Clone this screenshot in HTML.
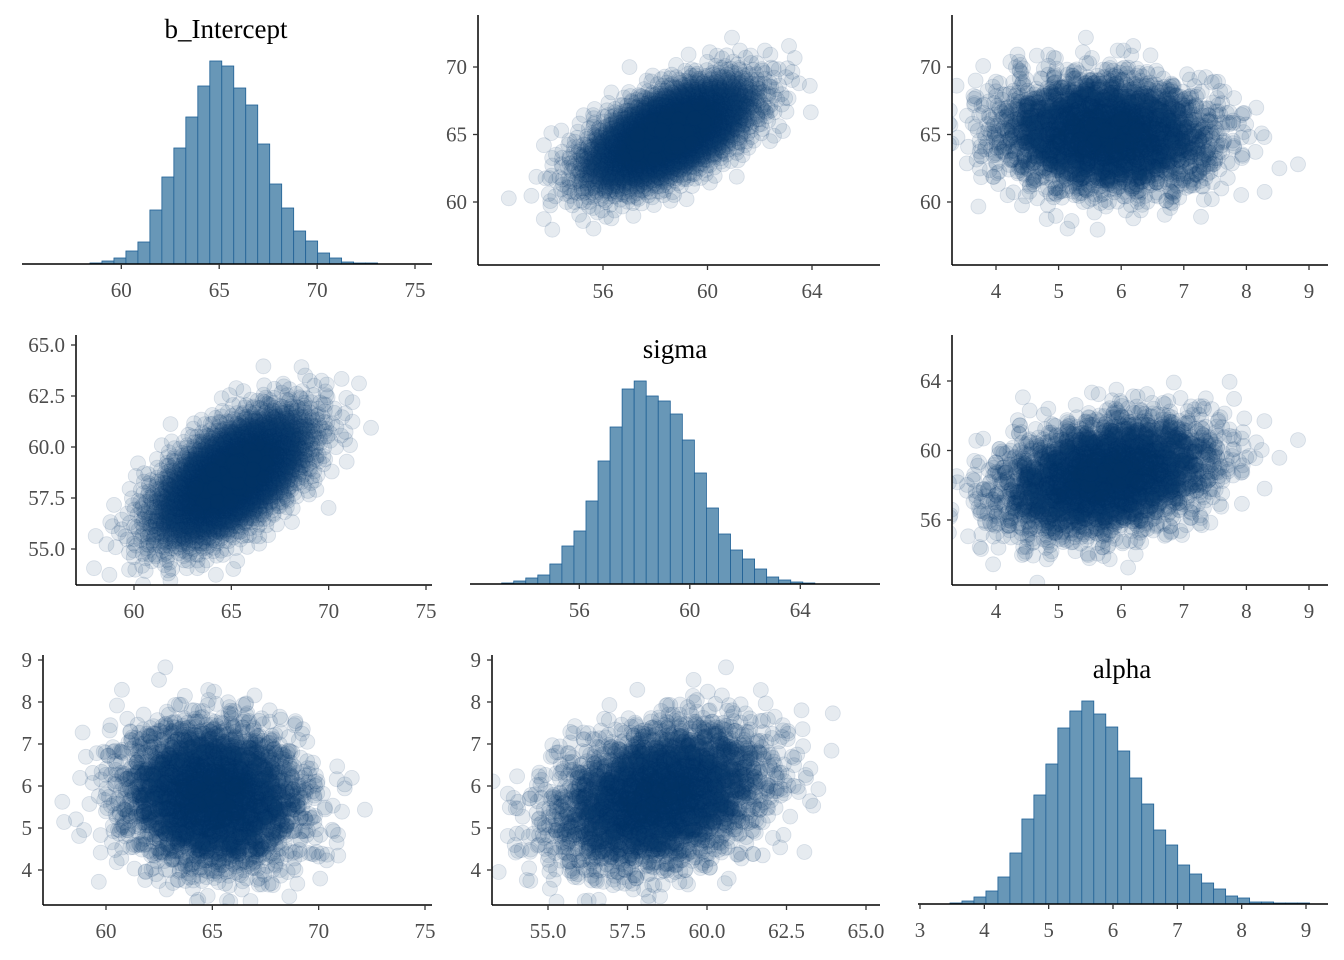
<!DOCTYPE html>
<html><head><meta charset="utf-8">
<style>
html,body{margin:0;padding:0;background:#fff;}
svg{display:block;font-family:"Liberation Serif",serif;}
</style></head>
<body>
<svg id="chart" width="1344" height="960" viewBox="0 0 1344 960"></svg>
<script>
// ---- data ----
const paramNames = ["b_Intercept", "sigma", "alpha"];
const paramMeans = [65.0, 58.5, 5.75];
const paramSds = [2.0, 1.6, 0.82];
const corrBSigma = 0.6;
const corrBAlpha = -0.08;
const corrSigmaAlpha = 0.3;
const nDraws = 4000;
// histogram bins (start, width, counts)
const histBStart = 58.40, histBWidth = 0.612;
const histBCounts = [1,3,6,13,22,54,87,116,147,178,203,198,176,159,120,80,56,33,23,11,6,2,1,1];
const histSStart = 53.19, histSWidth = 0.436;
const histSCounts = [1,3,6,9,20,38,53,83,123,157,195,203,188,183,170,144,111,76,50,34,25,15,7,4,2,1];
const histAStart = 3.466, histAWidth = 0.1863;
const histACounts = [1,3,7,13,27,51,85,109,140,176,193,203,190,177,153,126,100,74,59,39,30,21,15,8,6,2,2,1,1,1];
const ticksB1 = [60,65,70,75], ticksB3 = [60,65,70,75];
const ticksS1 = [56,60,64], ticksSy2 = ["55.0","57.5","60.0","62.5","65.0"], ticksS3 = ["55.0","57.5","60.0","62.5","65.0"];
const ticksA = [4,5,6,7,8,9], ticksAhist = [3,4,5,6,7,8,9];
const ticksBy = [60,65,70], ticksSy3 = [56,60,64], ticksAy = [4,5,6,7,8,9];

const NS="http://www.w3.org/2000/svg";
const svg=document.getElementById('chart');
function el(tag,attrs,parent){const e=document.createElementNS(NS,tag);for(const k in attrs)e.setAttribute(k,attrs[k]);(parent||svg).appendChild(e);return e;}
function lin(d0,d1,r0,r1){return v=>r0+(v-d0)*(r1-r0)/(d1-d0);}

// deterministic quasi-normal draws (Halton + Box-Muller)
function halton(i,b){let f=1,r=0;while(i>0){f/=b;r+=f*(i%b);i=Math.floor(i/b);}return r;}
const z1=[],z2=[],z3=[];
for(let i=1;i<=nDraws;i++){
  const u1=halton(i,2)*0.9995+0.0002,u2=halton(i,3),u3=halton(i,5)*0.9995+0.0002,u4=halton(i,7);
  const r1=Math.sqrt(-2*Math.log(u1)),r2=Math.sqrt(-2*Math.log(u3));
  z1.push(r1*Math.cos(2*Math.PI*u2));z2.push(r1*Math.sin(2*Math.PI*u2));z3.push(r2*Math.cos(2*Math.PI*u4));
}
const R=[[1,corrBSigma,corrBAlpha],[corrBSigma,1,corrSigmaAlpha],[corrBAlpha,corrSigmaAlpha,1]];
const L=[[0,0,0],[0,0,0],[0,0,0]];
for(let i=0;i<3;i++)for(let j=0;j<=i;j++){let s=R[i][j];for(let k=0;k<j;k++)s-=L[i][k]*L[j][k];L[i][j]=i===j?Math.sqrt(s):s/L[j][j];}
const draws=[[],[],[]];
for(let n=0;n<nDraws;n++){const z=[z1[n],z2[n],z3[n]];for(let p=0;p<3;p++){let v=0;for(let k=0;k<=p;k++)v+=L[p][k]*z[k];draws[p].push(paramMeans[p]+paramSds[p]*v);}}

function xAxis(g,x0,x1,y,ticks,sx){
  const a=el('line',{x1:x0,x2:x1,y1:y,y2:y,stroke:'#000','stroke-width':1.5},g);
  
  ticks.forEach(t=>{const px=sx(+t);
    el('line',{x1:px,x2:px,y1:y,y2:y+5,stroke:'#333','stroke-width':1.3},g);
    const tx=el('text',{x:px,y:y+33,'text-anchor':'middle','font-size':21,fill:'#4d4d4d'},g);tx.textContent=t;
    });
}
function yAxis(g,x,y0,y1,ticks,sy){
  const a=el('line',{x1:x,x2:x,y1:y0,y2:y1,stroke:'#000','stroke-width':1.5},g);
  
  ticks.forEach(t=>{const py=sy(+t);
    el('line',{x1:x-5,x2:x,y1:py,y2:py,stroke:'#333','stroke-width':1.3},g);
    const tx=el('text',{x:x-11,y:py+7,'text-anchor':'end','font-size':21,fill:'#4d4d4d'},g);tx.textContent=t;
    });
}
function hist(name,title,start,width,counts,sx,baseY,pxPerCount,titleX,titleY,axX0,axX1,ticks){
  const g=el('g',{});
  counts.forEach((c,i)=>{const a=sx(start+i*width),b=sx(start+(i+1)*width);
    const r=el('rect',{x:a,y:baseY-c*pxPerCount,width:b-a,height:c*pxPerCount,fill:'#6897b7',stroke:'#1f6095','stroke-width':0.8},g);
    });
  xAxis(g,axX0,axX1,baseY,ticks,sx);
  const t=el('text',{x:titleX,y:titleY,'text-anchor':'middle','font-size':27,fill:'#000'},g);t.textContent=title;
  
}
function scatter(name,xi,yi,sx,sy,clip){
  const g=el('g',{});
  const cid='c'+name;const cp=el('clipPath',{id:cid},g);el('rect',clip,cp);
  const pg=el('g',{'clip-path':'url(#'+cid+')'},g);
  for(let n=0;n<nDraws;n++){
    const c=el('circle',{cx:sx(draws[xi][n]).toFixed(1),cy:sy(draws[yi][n]).toFixed(1),r:7.5,fill:'#08376b','fill-opacity':0.1,stroke:'#08376b','stroke-opacity':0.13,'stroke-width':0.8},pg);
    
  }
  return g;
}
// Row 1
hist('b-intercept','b_Intercept',histBStart,histBWidth,histBCounts,lin(60,75,121.3,415),264,1.0,226,38,22,432,ticksB1);
{const sx=lin(56,64,603,812),sy=lin(60,70,202,67);
 const g=scatter('sigma-vs-b',1,0,sx,sy,{x:478,y:10,width:410,height:255});
 xAxis(g,478,880,265,ticksS1,sx);yAxis(g,478,15,265,ticksBy,sy);}
{const sx=lin(4,9,996,1309),sy=lin(60,70,202,67);
 const g=scatter('alpha-vs-b',2,0,sx,sy,{x:952,y:10,width:392,height:255});
 xAxis(g,952,1328,265,ticksA,sx);yAxis(g,952,15,265,ticksBy,sy);}
// Row 2
{const sx=lin(60,75,134,426),sy=lin(55,65,549,345);
 const g=scatter('b-vs-sigma',0,1,sx,sy,{x:76,y:330,width:370,height:255});
 xAxis(g,76,432,585,ticksB1,sx);yAxis(g,76,335,585,ticksSy2,sy);}
hist('sigma','sigma',histSStart,histSWidth,histSCounts,lin(56,64,579.3,800.3),584,1.0,675,358,470,880,ticksS1);
{const sx=lin(4,9,996,1309),sy=lin(56,64,520,381);
 const g=scatter('alpha-vs-sigma',2,1,sx,sy,{x:952,y:330,width:392,height:255});
 xAxis(g,952,1328,585,ticksA,sx);yAxis(g,952,335,585,ticksSy3,sy);}
// Row 3
{const sx=lin(60,75,106,425),sy=lin(4,9,870,660);
 const g=scatter('b-vs-alpha',0,2,sx,sy,{x:43,y:650,width:400,height:255});
 xAxis(g,43,432,905,ticksB3,sx);yAxis(g,43,655,905,ticksAy,sy);}
{const sx=lin(55,65,548,866),sy=lin(4,9,870,660);
 const g=scatter('sigma-vs-alpha',1,2,sx,sy,{x:492,y:650,width:400,height:255});
 xAxis(g,492,880,905,ticksS3,sx);yAxis(g,492,655,905,ticksAy,sy);}
hist('alpha','alpha',histAStart,histAWidth,histACounts,lin(3,9,920,1306),904,1.0,1122,678,918,1328,ticksAhist);
</script>
</body></html>
